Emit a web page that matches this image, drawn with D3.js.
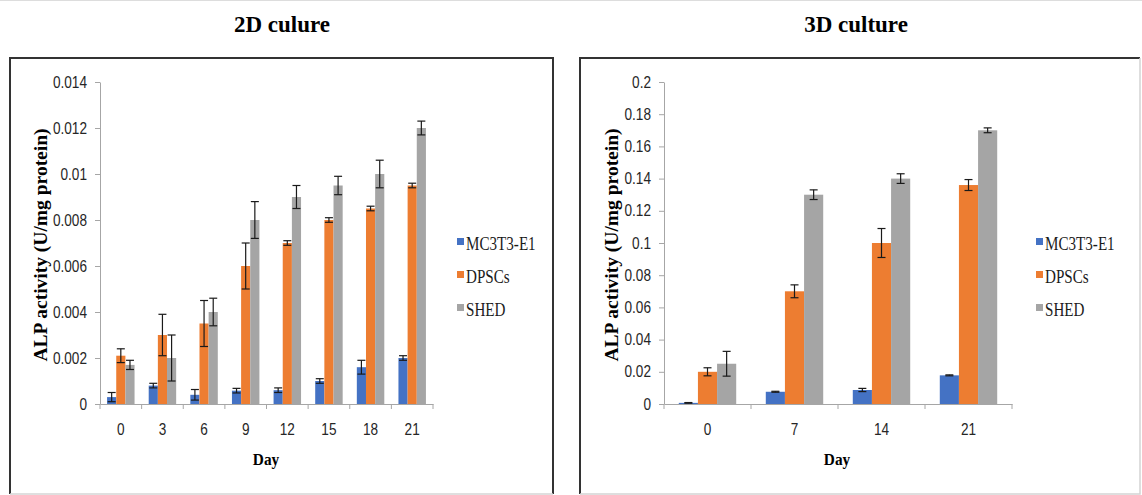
<!DOCTYPE html>
<html>
<head>
<meta charset="utf-8">
<script src="https://cdn.jsdelivr.net/npm/d3@7"></script>
<style>
  body { margin: 0; background: #fff; }
  .serif { font-family: "Liberation Serif", "Times New Roman", serif; }
  .tick text { font-family: "Liberation Sans", Arial, sans-serif; }
</style>
</head>
<body>
<div id="chart"></div>
<script>
// series shared by both panels
const series = ["MC3T3-E1", "DPSCs", "SHED"];
const colors = ["#4472C4", "#ED7D31", "#A5A5A5"];

// 2D culture
const days2d = ["0", "3", "6", "9", "12", "15", "18", "21"];
const mc2d = [0.0003, 0.0008, 0.0004, 0.00058, 0.0006, 0.001, 0.0016, 0.002];
const mcErr2d = [0.0002, 0.0001, 0.00023, 0.0001, 0.0001, 0.0001, 0.0003, 0.0001];
const dp2d = [0.0021, 0.003, 0.0035, 0.006, 0.007, 0.008, 0.0085, 0.0095];
const dpErr2d = [0.0003, 0.0009, 0.001, 0.001, 0.0001, 0.0001, 0.0001, 0.0001];
const sh2d = [0.0017, 0.002, 0.004, 0.008, 0.009, 0.0095, 0.01, 0.012];
const shErr2d = [0.0002, 0.001, 0.0006, 0.0008, 0.0005, 0.0004, 0.0006, 0.0003];
const ticks2d = [0, 0.002, 0.004, 0.006, 0.008, 0.01, 0.012, 0.014];

// 3D culture
const days3d = ["0", "7", "14", "21"];
const mc3d = [0.0007, 0.0076, 0.0087, 0.0178];
const mcErr3d = [0.0002, 0.0003, 0.001, 0.0003];
const dp3d = [0.02, 0.07, 0.1, 0.136];
const dpErr3d = [0.0025, 0.004, 0.009, 0.0034];
const sh3d = [0.025, 0.13, 0.14, 0.17];
const shErr3d = [0.0077, 0.003, 0.003, 0.0015];
const ticks3d = [0, 0.02, 0.04, 0.06, 0.08, 0.1, 0.12, 0.14, 0.16, 0.18, 0.2];

const width = 1142, height = 495;

const svg = d3.select("#chart").append("svg")
    .attr("width", width)
    .attr("height", height);

svg.append("line")
    .attr("x1", 0).attr("x2", width).attr("y1", 0.5).attr("y2", 0.5)
    .attr("stroke", "#ddd");

const panels = [
  {title: "2D culure", titleX: 282, box: [10, 58, 553, 494], rightLight: false,
   axisX: [100, 433], days: days2d, ticks: ticks2d,
   values: [mc2d, dp2d, sh2d], errors: [mcErr2d, dpErr2d, shErr2d],
   labelX: 40, dayX: 266, legendX: 457},
  {title: "3D culture", titleX: 856, box: [580, 58, 1140, 494], rightLight: true,
   axisX: [664, 1012], days: days3d, ticks: ticks3d,
   values: [mc3d, dp3d, sh3d], errors: [mcErr3d, dpErr3d, shErr3d],
   labelX: 611, dayX: 837, legendX: 1036}
];

// squeeze tick labels a bit, like the narrow font of the original
function narrowTicks(sel) {
  sel.selectAll("text")
    .attr("font-size", 16)
    .attr("fill", "#262626")
    .each(function() {
      const w = this.getComputedTextLength();
      d3.select(this).attr("textLength", w * 0.85).attr("lengthAdjust", "spacingAndGlyphs");
    });
}

panels.forEach(p => {
  const [bx0, by0, bx1, by1] = p.box;
  const g = svg.append("g");

  // frame
  g.append("path")
    .attr("d", `M${bx0},${by1}V${by0}H${bx1}` + (p.rightLight ? "" : `V${by1}`))
    .attr("fill", "none").attr("stroke", "#333").attr("stroke-width", 2);
  g.append("path")
    .attr("d", `M${bx0},${by1}H${bx1}` + (p.rightLight ? `V${by0}` : ""))
    .attr("fill", "none").attr("stroke", "#d4d4d4").attr("stroke-width", 1.5);

  // title
  svg.append("text")
    .attr("class", "serif")
    .attr("x", p.titleX).attr("y", 32)
    .attr("text-anchor", "middle")
    .attr("font-weight", "bold")
    .attr("font-size", 23)
    .text(p.title);

  const x0 = d3.scaleBand().domain(p.days).range(p.axisX);
  const bw = x0.bandwidth();
  const x1 = d3.scaleBand().domain(series).range([bw * 0.17, bw * 0.83]);
  const y = d3.scaleLinear().domain([0, d3.max(p.ticks)]).range([404, 82]);

  // y axis
  const yAxis = g.append("g")
    .attr("transform", `translate(${p.axisX[0]},0)`)
    .call(d3.axisLeft(y).tickValues(p.ticks).tickSize(5).tickSizeOuter(0).tickPadding(8)
      .tickFormat(d => String(+d.toFixed(4))));
  yAxis.attr("font-family", null).attr("font-size", null);
  yAxis.call(narrowTicks);
  yAxis.selectAll("line, path").attr("stroke", "#a6a6a6");

  // x axis
  const xAxis = g.append("g")
    .attr("transform", "translate(0,404)")
    .call(d3.axisBottom(x0).tickSize(0).tickSizeOuter(0).tickPadding(20));
  xAxis.attr("font-family", null).attr("font-size", null);
  xAxis.call(narrowTicks);
  xAxis.select(".domain").attr("stroke", "#a6a6a6");
  const edges = p.days.map(d => x0(d)).concat([p.axisX[1]]);
  xAxis.selectAll(".edge").data(edges).enter().append("line")
    .attr("x1", d => d).attr("x2", d => d).attr("y1", 0).attr("y2", 5)
    .attr("stroke", "#a6a6a6");

  // bars
  const rows = [];
  p.days.forEach((d, i) => series.forEach((s, k) => rows.push({
    day: d, s, k, v: p.values[k][i], e: p.errors[k][i]})));

  const bar = g.selectAll(".bar").data(rows).enter().append("g")
    .attr("transform", d => `translate(${x0(d.day) + x1(d.s)},0)`);

  bar.append("rect")
    .attr("y", d => y(d.v))
    .attr("width", x1.bandwidth())
    .attr("height", d => y(0) - y(d.v))
    .attr("fill", d => colors[d.k]);

  // error bars
  const cx = x1.bandwidth() / 2;
  bar.append("line")
    .attr("x1", cx).attr("x2", cx)
    .attr("y1", d => y(d.v - d.e)).attr("y2", d => y(d.v + d.e))
    .attr("stroke", "#1a1a1a").attr("stroke-width", 1.2);
  [-1, 1].forEach(sign => {
    bar.append("line")
      .attr("x1", cx - 4).attr("x2", cx + 4)
      .attr("y1", d => y(d.v + sign * d.e)).attr("y2", d => y(d.v + sign * d.e))
      .attr("stroke", "#1a1a1a").attr("stroke-width", 1.2);
  });

  // axis titles
  g.append("text")
    .attr("class", "serif")
    .attr("transform", `translate(${p.labelX},245) rotate(-90)`)
    .attr("text-anchor", "middle")
    .attr("dy", "0.35em")
    .attr("font-weight", "bold")
    .attr("font-size", 19.5)
    .text("ALP activity (U/mg protein)");
  g.append("text")
    .attr("class", "serif")
    .attr("transform", `translate(${p.dayX},465) scale(0.9,1)`)
    .attr("text-anchor", "middle")
    .attr("font-weight", "bold")
    .attr("font-size", 17)
    .text("Day");

  // legend
  const leg = g.selectAll(".leg").data(series).enter().append("g")
    .attr("transform", (d, i) => `translate(${p.legendX},${238 + i * 33})`);
  leg.append("rect").attr("width", 7).attr("height", 7)
    .attr("fill", (d, i) => colors[i]);
  leg.append("text")
    .attr("class", "serif")
    .attr("transform", "translate(9,12) scale(0.84,1)")
    .attr("font-size", 18)
    .attr("fill", "#1a1a1a")
    .text(d => d);
});
</script>
</body>
</html>
